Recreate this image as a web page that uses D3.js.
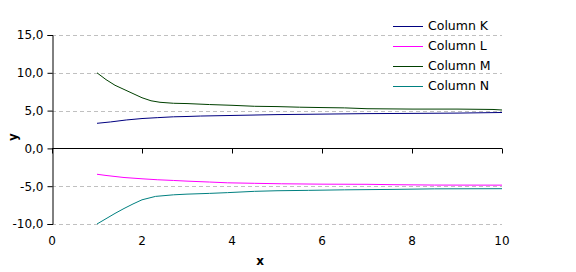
<!DOCTYPE html>
<html>
<head>
<meta charset="utf-8">
<script src="https://cdn.jsdelivr.net/npm/d3@7"></script>
<style>
  body { margin: 0; background: #fff; }
  text { font-family: "DejaVu Sans", sans-serif; }
</style>
</head>
<body>
<div id="chart"></div>
<script>
// values
var xK = [1, 1.3, 1.65, 2, 2.35, 2.7, 3, 3.3, 4.2, 5, 5.8, 7, 8, 9, 10];
var colK = [3.32, 3.5, 3.76, 3.95, 4.07, 4.18, 4.22, 4.28, 4.38, 4.47, 4.52, 4.6, 4.63, 4.67, 4.75];

var xL = [1, 1.2, 1.6, 2, 2.35, 2.7, 3, 3.5, 3.9, 4.5, 5.1, 6, 7, 7.6, 8.5, 10];
var colL = [-3.42, -3.58, -3.85, -4.02, -4.15, -4.24, -4.33, -4.45, -4.55, -4.62, -4.68, -4.73, -4.75, -4.8, -4.85, -4.86];

var xM = [1, 1.2, 1.4, 1.6, 1.8, 2, 2.2, 2.4, 2.7, 3, 3.5, 4, 4.5, 5, 5.5, 6, 6.5, 7, 8, 9, 9.8, 10];
var colM = [10, 9.1, 8.35, 7.8, 7.25, 6.7, 6.3, 6.1, 5.97, 5.93, 5.8, 5.7, 5.57, 5.53, 5.45, 5.4, 5.36, 5.25, 5.2, 5.2, 5.15, 5.08];

var xN = [1, 1.2, 1.4, 1.6, 1.8, 2, 2.3, 2.7, 3, 3.5, 3.9, 4.5, 5, 5.7, 6.5, 7.6, 8.5, 10];
var colN = [-10, -9.3, -8.6, -7.95, -7.35, -6.8, -6.35, -6.14, -6.05, -5.95, -5.85, -5.68, -5.6, -5.55, -5.48, -5.42, -5.35, -5.33];

var names = ["Column K", "Column L", "Column M", "Column N"];
var colors = ["#000080", "#ff00ff", "#004000", "#008080"];
var xTicks = [0, 2, 4, 6, 8, 10];
var yTicks = [-10, -5, 0, 5, 10, 15];

var seriesX = [xK, xL, xM, xN];
var seriesY = [colK, colL, colM, colN];

var width = 576, height = 272;

var svg = d3.select("#chart")
  .append("svg")
    .attr("width", width)
    .attr("height", height);

var x = d3.scaleLinear().domain([0, 10]).range([52, 502]);
var y = d3.scaleLinear().domain([-10, 15]).range([224, 35]);

var fmt = function(d) { return d3.format(".1f")(d).replace(".", ",").replace("−", "-"); };

// dashed grid lines
svg.append("g")
  .selectAll("line")
  .data(yTicks.filter(d => d != 0))
  .enter()
  .append("line")
    .attr("x1", x(0))
    .attr("x2", x(10))
    .attr("y1", d => Math.round(y(d)) + 0.5)
    .attr("y2", d => Math.round(y(d)) + 0.5)
    .attr("stroke", "#c0c0c0")
    .attr("stroke-dasharray", "4,3");

// y axis
var yAxis = svg.append("g")
  .attr("transform", "translate(" + (x(0) + 0.5) + ",0)")
  .call(d3.axisLeft(y).tickValues(yTicks).tickFormat(fmt).tickSize(5).tickPadding(4));
yAxis.selectAll("text").style("font-size", "12px").attr("fill", "#000");

// x axis drawn at y = 0, labels below the plot
var xAxis = svg.append("g")
  .attr("transform", "translate(0," + (Math.round(y(0)) + 0.5) + ")")
  .call(d3.axisBottom(x).tickValues(xTicks).tickSize(5).tickFormat(""));
xAxis.select(".domain").attr("d", "M" + x(0) + ",0H" + x(10));

svg.append("g")
  .selectAll("text")
  .data(xTicks)
  .enter()
  .append("text")
    .attr("x", d => x(d))
    .attr("y", 245)
    .attr("text-anchor", "middle")
    .style("font-size", "12px")
    .text(d => d);

// axis titles
svg.append("text")
  .attr("x", 260)
  .attr("y", 265)
  .attr("text-anchor", "middle")
  .style("font-size", "12px")
  .style("font-weight", "bold")
  .text("x");

svg.append("text")
  .attr("transform", "translate(17,137) rotate(-90)")
  .attr("text-anchor", "middle")
  .style("font-size", "12px")
  .style("font-weight", "bold")
  .text("y");

// lines
seriesY.forEach(function(vals, i) {
  var pts = vals.map((v, j) => [seriesX[i][j], v]);
  svg.append("path")
    .datum(pts)
    .attr("fill", "none")
    .attr("stroke", colors[i])
    .attr("stroke-width", 1)
    .attr("d", d3.line()
      .x(d => x(d[0]))
      .y(d => y(d[1])));
});

// legend
names.forEach(function(n, i) {
  var ly = 26 + i * 20;
  svg.append("line")
    .attr("x1", 393).attr("x2", 423)
    .attr("y1", ly + 0.5).attr("y2", ly + 0.5)
    .attr("stroke", colors[i]);
  svg.append("text")
    .attr("x", 428)
    .attr("y", ly)
    .attr("dy", "0.35em")
    .style("font-size", "12.5px")
    .text(n);
});
</script>
</body>
</html>
